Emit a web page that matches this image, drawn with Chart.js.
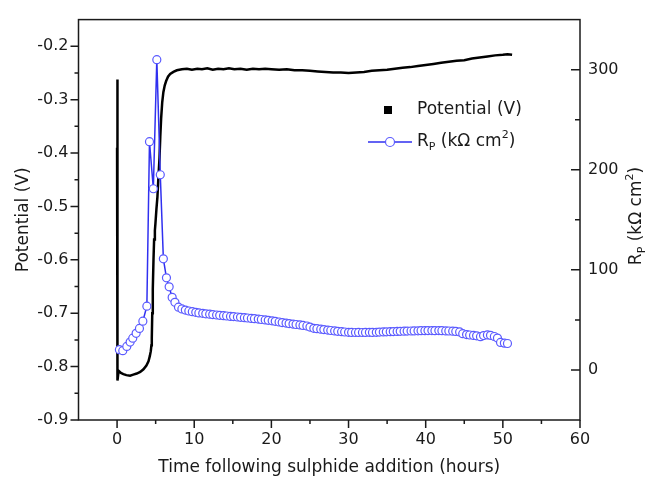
<!DOCTYPE html>
<html><head><meta charset="utf-8">
<script src="https://cdn.jsdelivr.net/npm/chart.js@4/dist/chart.umd.min.js"></script>
<style>html,body{margin:0;padding:0;background:#fff;}canvas{display:block;}</style>
</head><body>
<canvas id="c" width="650" height="481" style="width:650px;height:481px"></canvas>
<script>
// ---- data ----
const potTime = [0.00,0.02,0.04,0.06,0.08,0.20,0.50,0.82,1.20,1.69,2.10,2.55,3.00,3.42,3.80,4.07,4.25,4.37,4.45,4.50,4.56,4.63,4.72,4.80,4.90,4.97,5.10,5.23,5.36,5.50,5.60,5.71,5.85,6.00,6.18,6.36,6.60,6.88,7.30,7.75,8.40,9.05,9.70,10.4,11.0,11.7,12.4,13.1,13.8,14.5,15.2,16.0,16.8,17.6,18.4,19.2,20.0,21.0,22.0,23.0,24.0,25.0,26.0,27.0,28.0,29.0,30.0,31.0,32.0,33.0,34.0,35.0,36.0,37.0,38.0,39.0,40.0,41.0,42.0,43.0,44.0,45.0,46.0,47.0,48.0,49.0,50.0,50.6,51.2];
const potValue = [-0.390,-0.262,-0.330,-0.300,-0.826,-0.808,-0.812,-0.814,-0.816,-0.817,-0.815,-0.813,-0.810,-0.805,-0.798,-0.790,-0.780,-0.771,-0.760,-0.747,-0.700,-0.655,-0.600,-0.562,-0.545,-0.532,-0.505,-0.482,-0.445,-0.409,-0.370,-0.335,-0.305,-0.286,-0.273,-0.265,-0.257,-0.252,-0.248,-0.245,-0.243,-0.242,-0.244,-0.242,-0.243,-0.241,-0.244,-0.242,-0.243,-0.241,-0.243,-0.242,-0.244,-0.242,-0.243,-0.242,-0.243,-0.244,-0.243,-0.245,-0.245,-0.246,-0.247,-0.248,-0.249,-0.249,-0.250,-0.249,-0.248,-0.246,-0.245,-0.244,-0.242,-0.240,-0.239,-0.237,-0.235,-0.233,-0.231,-0.229,-0.227,-0.226,-0.223,-0.221,-0.219,-0.217,-0.216,-0.215,-0.216];

const rpTime = [0.30,0.74,1.26,1.69,2.03,2.47,2.90,3.34,3.86,4.20,4.70,5.15,5.60,6.00,6.40,6.75,7.14,7.50,7.96,8.40,8.85,9.30,9.75,10.2,10.6,11.1,11.5,12.0,12.4,12.9,13.3,13.8,14.2,14.7,15.1,15.6,16.0,16.5,16.9,17.4,17.8,18.3,18.7,19.2,19.6,20.1,20.5,21.0,21.4,21.9,22.3,22.8,23.2,23.7,24.1,24.6,25.0,25.5,25.9,26.4,26.8,27.3,27.7,28.2,28.6,29.1,29.5,30.0,30.4,30.9,31.3,31.8,32.2,32.7,33.1,33.6,34.0,34.5,34.9,35.4,35.8,36.3,36.7,37.2,37.6,38.1,38.5,39.0,39.4,39.9,40.3,40.8,41.2,41.7,42.1,42.6,43.0,43.5,43.9,44.4,44.8,45.3,45.7,46.2,46.6,47.1,47.5,48.0,48.4,48.9,49.3,49.7,50.2,50.6];
const rpValue = [20.3,19.3,23.5,27.8,31.7,36.6,41.5,48.7,63.7,228,181,310,195,111,92,83,72.5,67.6,62.7,61.0,59.8,58.9,58.2,57.6,57.0,56.6,56.1,55.7,55.3,54.9,54.6,54.2,53.9,53.5,53.3,52.9,52.6,52.2,51.9,51.5,51.2,50.8,50.4,50.0,49.6,49.1,48.6,47.9,47.3,46.8,46.3,45.8,45.4,45.0,44.5,43.9,42.8,41.6,41.2,40.7,40.3,39.8,39.4,39.0,38.6,38.2,37.9,37.6,37.5,37.4,37.5,37.4,37.5,37.6,37.5,37.6,37.8,38.0,38.1,38.2,38.3,38.5,38.6,38.7,38.8,38.9,39.0,39.1,39.2,39.2,39.3,39.3,39.2,39.3,39.2,39.0,38.9,38.7,38.5,38.0,36.2,35.3,34.9,34.5,34.1,33.2,34.3,35.0,34.6,33.4,31.8,27.5,26.8,26.4];

const xTickValues = [0,10,20,30,40,50,60];
const xMinorTicks = [5,15,25,35,45,55];
const leftTickValues = [-0.9,-0.8,-0.7,-0.6,-0.5,-0.4,-0.3,-0.2];
const leftMinorTicks = [-0.85,-0.75,-0.65,-0.55,-0.45,-0.35,-0.25];
const rightTickValues = [0,100,200,300];
const rightMinorTicks = [50,150,250];

const xTitle = 'Time following sulphide addition (hours)';
const leftTitle = 'Potential (V)';
const potLabel = 'Potential (V)';

Chart.defaults.font.family = "'DejaVu Sans', 'Liberation Sans', sans-serif";
Chart.defaults.color = '#1a1a1a';

const FONT = "'DejaVu Sans', 'Liberation Sans', sans-serif";

function drawRich(ctx, parts, x, y) {
  let w = 0;
  parts.forEach(p => { ctx.font = p.size + 'px ' + FONT; w += ctx.measureText(p.t).width; });
  let cx = x;
  parts.forEach(p => {
    ctx.font = p.size + 'px ' + FONT;
    ctx.fillText(p.t, cx, y + p.dy);
    cx += ctx.measureText(p.t).width;
  });
  return w;
}
const rpParts = [
  {t:'R', size:17, dy:0},
  {t:'P', size:11, dy:5},
  {t:' (k\u03A9 cm', size:17, dy:0},
  {t:'2', size:11, dy:-7},
  {t:')', size:17, dy:0}
];

const decor = {
  id: 'decor',
  afterDatasetsDraw(chart) {
    const {ctx, chartArea: a, scales} = chart;
    const x = scales.x, y = scales.y, y2 = scales.y2;
    ctx.save();
    ctx.strokeStyle = '#1a1a1a';
    ctx.lineWidth = 1.5;
    ctx.strokeRect(a.left, a.top, a.right - a.left, a.bottom - a.top);
    ctx.beginPath();
    xTickValues.forEach(v => { const p = x.getPixelForValue(v); ctx.moveTo(p, a.bottom); ctx.lineTo(p, a.bottom + 8); });
    xMinorTicks.forEach(v => { const p = x.getPixelForValue(v); ctx.moveTo(p, a.bottom); ctx.lineTo(p, a.bottom + 4); });
    leftTickValues.forEach(v => { const p = y.getPixelForValue(v); ctx.moveTo(a.left, p); ctx.lineTo(a.left - 8, p); });
    leftMinorTicks.forEach(v => { const p = y.getPixelForValue(v); ctx.moveTo(a.left, p); ctx.lineTo(a.left - 4, p); });
    rightTickValues.forEach(v => { const p = y2.getPixelForValue(v); ctx.moveTo(a.right, p); ctx.lineTo(a.right - 9, p); });
    rightMinorTicks.forEach(v => { const p = y2.getPixelForValue(v); ctx.moveTo(a.right, p); ctx.lineTo(a.right - 5, p); });
    ctx.stroke();

    // legend
    ctx.fillStyle = '#000';
    ctx.fillRect(384, 106, 8, 8);
    ctx.fillStyle = '#1a1a1a';
    ctx.textBaseline = 'middle';
    ctx.textAlign = 'left';
    ctx.font = '17px ' + FONT;
    ctx.fillText(potLabel, 417, 110);
    ctx.strokeStyle = '#3030f0';
    ctx.lineWidth = 1.5;
    ctx.beginPath(); ctx.moveTo(368, 142); ctx.lineTo(385.5, 142); ctx.moveTo(394.5, 142); ctx.lineTo(412, 142); ctx.stroke();
    ctx.beginPath(); ctx.arc(390, 142, 4.5, 0, Math.PI * 2);
    ctx.fillStyle = '#fff'; ctx.fill();
    ctx.strokeStyle = '#5a5aff'; ctx.lineWidth = 1.2; ctx.stroke();
    ctx.fillStyle = '#1a1a1a';
    drawRich(ctx, rpParts, 417, 142);

    // right axis title
    ctx.save();
    ctx.translate(637, 216);
    ctx.rotate(-Math.PI / 2);
    let w = 0;
    rpParts.forEach(p => { ctx.font = p.size + 'px ' + FONT; w += ctx.measureText(p.t).width; });
    drawRich(ctx, rpParts, -w / 2, 0);
    ctx.restore();
    ctx.restore();
  }
};

new Chart(document.getElementById('c'), {
  type: 'line',
  data: {
    datasets: [
      {
        label: 'Rp (k\u03A9 cm\u00B2)',
        data: rpTime.map((t, i) => ({x: t, y: rpValue[i]})),
        yAxisID: 'y2',
        borderColor: '#3030f0',
        borderWidth: 1.5,
        pointRadius: 4,
        pointBorderWidth: 1.2,
        pointBorderColor: '#5a5aff',
        pointBackgroundColor: '#ffffff',
        tension: 0
      },
      {
        label: potLabel,
        data: potTime.map((t, i) => ({x: t, y: potValue[i]})),
        yAxisID: 'y',
        borderColor: '#000000',
        borderWidth: 2.5,
        pointRadius: 0,
        tension: 0
      }
    ]
  },
  options: {
    responsive: false,
    animation: false,
    devicePixelRatio: 1,
    layout: {padding: {top: 13.5, left: 0, right: 0, bottom: 0}},
    plugins: {legend: {display: false}, tooltip: {enabled: false}},
    scales: {
      x: {
        type: 'linear', position: 'bottom', min: -5, max: 60,
        afterBuildTicks: s => { s.ticks = xTickValues.map(v => ({value: v})); },
        afterFit: s => { s.height = 61; },
        grid: {display: false, drawTicks: false},
        border: {display: false},
        ticks: {font: {size: 16}, padding: 10, maxRotation: 0, autoSkip: false, color: '#1a1a1a'},
        title: {display: true, text: xTitle, font: {size: 17}, padding: {top: 0, bottom: 3}, color: '#1a1a1a'}
      },
      y: {
        type: 'linear', position: 'left', min: -0.9, max: -0.15,
        afterBuildTicks: s => { s.ticks = leftTickValues.map(v => ({value: v})); },
        afterFit: s => { s.width = 78.5; },
        grid: {display: false, drawTicks: false},
        border: {display: false},
        ticks: {font: {size: 16}, padding: 10, color: '#1a1a1a', callback: v => v.toFixed(1)},
        title: {display: true, text: leftTitle, font: {size: 17}, padding: {top: 13, bottom: 0}, color: '#1a1a1a'}
      },
      y2: {
        type: 'linear', position: 'right', min: -50, max: 350,
        afterBuildTicks: s => { s.ticks = rightTickValues.map(v => ({value: v})); },
        afterFit: s => { s.width = 70; },
        grid: {display: false, drawTicks: false},
        border: {display: false},
        ticks: {font: {size: 16}, padding: 8, color: '#1a1a1a', callback: v => String(v)}
      }
    }
  },
  plugins: [decor]
});
</script>
</body></html>
